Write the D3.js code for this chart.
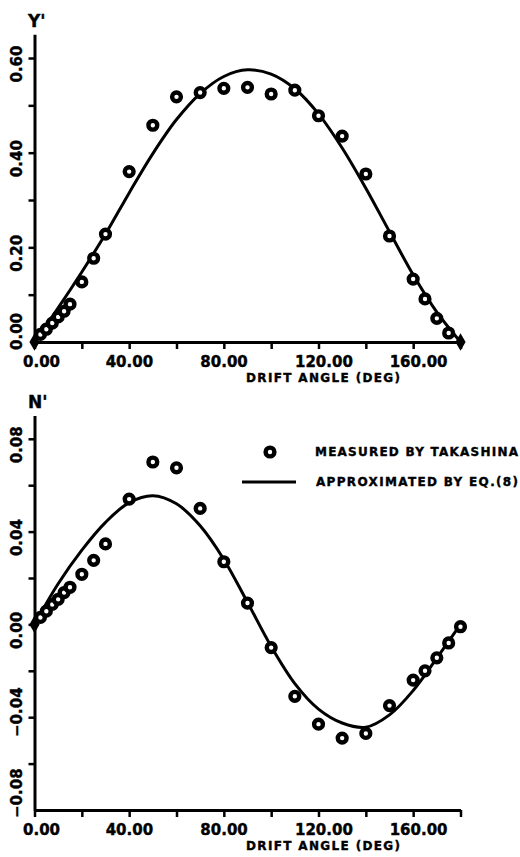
<!DOCTYPE html>
<meta charset="utf-8">
<head>
	<title>Drift angle</title>
	<script src="https://cdnjs.cloudflare.com/ajax/libs/d3/7.8.5/d3.min.js" charset="utf-8"></script>
</head>

<style type="text/css">
	body {
		margin: 0;
		background: #fff;
	}
	text {
		font-family: "DejaVu Sans", sans-serif;
		font-weight: bold;
		fill: #000;
		stroke: #000;
		stroke-width: 0.4;
	}
	.axis path, .axis line {
		stroke: #000;
	}
	.axis path {
		stroke-width: 3;
	}
	.axis line {
		stroke-width: 2.5;
	}
	.axis text {
		font-size: 15px;
	}
	.curve {
		fill: none;
		stroke: #000;
		stroke-width: 3;
	}
	.dot {
		fill: #fff;
		stroke: #000;
		stroke-width: 4.4;
	}
</style>

<body>
<div id=chart></div>

<script>
	// measured points (Takashina), drift angle in degrees
	var yAngles = [0, 2.5, 5, 7.5, 10, 12.5, 15, 20, 25, 30, 40, 50, 60, 70, 80, 90, 100, 110, 120, 130, 140, 150, 160, 165, 170, 175, 180];
	var yMeasured = [0, 0.016, 0.027, 0.04, 0.053, 0.065, 0.08, 0.127, 0.177, 0.228, 0.36, 0.458, 0.518, 0.527, 0.536, 0.538, 0.524, 0.532, 0.478, 0.435, 0.355, 0.224, 0.133, 0.091, 0.05, 0.019, 0];

	var nAngles = [0, 2.5, 5, 7.5, 10, 12.5, 15, 20, 25, 30, 40, 50, 60, 70, 80, 90, 100, 110, 120, 130, 140, 150, 160, 165, 170, 175, 180];
	var nMeasured = [0, 0.003, 0.0057, 0.0086, 0.0108, 0.0137, 0.016, 0.0216, 0.0276, 0.0347, 0.054, 0.070, 0.0675, 0.050, 0.027, 0.0092, -0.010, -0.031, -0.043, -0.049, -0.047, -0.035, -0.024, -0.020, -0.0144, -0.008, -0.001];

	// approximated curve, Eq.(8), read off every 10 deg
	var curveAngles = [0, 10, 20, 30, 40, 50, 60, 70, 80, 90, 100, 110, 120, 130, 140, 150, 160, 170, 180];
	var yCurve = [0, 0.072, 0.148, 0.228, 0.315, 0.398, 0.47, 0.525, 0.561, 0.575, 0.566, 0.535, 0.482, 0.41, 0.325, 0.233, 0.142, 0.063, 0];
	var nCurve = [0, 0.0175, 0.032, 0.044, 0.0525, 0.0555, 0.052, 0.0425, 0.028, 0.0095, -0.0095, -0.0255, -0.0365, -0.0425, -0.0443, -0.039, -0.0285, -0.0145, 0];

	var xTicks = [0, 20, 40, 60, 80, 100, 120, 140, 160, 180];
	var yTicks = [0.1, 0.2, 0.3, 0.4, 0.5, 0.6];
	var yLabels = [0, 0.2, 0.4, 0.6];
	var nTicks = [-0.06, -0.04, -0.02, 0, 0.02, 0.04, 0.06, 0.08];
	var nLabels = [-0.08, -0.04, 0, 0.04, 0.08];

	var svg = d3.select("#chart").append("svg")
		.attr("width", 520)
		.attr("height", 857);

	var xLeft = 34.5, xRight = 460.5;

	function panel(opts) {
		var x = d3.scaleLinear().domain([0, 180]).range([xLeft, xRight]);
		var y = d3.scaleLinear().domain(opts.yDomain).range(opts.yRange);
		var g = svg.append("g");
		var fmt = d3.format(".2f");

		// x axis
		var xa = g.append("g")
			.attr("class", "x axis")
			.attr("transform", "translate(0," + y(opts.yDomain[0]) + ")")
			.call(d3.axisBottom(x).tickValues(xTicks).tickSize(7).tickSizeOuter(0)
				.tickFormat(function(d) { return d % 40 === 0 ? fmt(d) : ""; }));
		xa.selectAll("text")
			.attr("y", 19.5)
			.attr("dy", null)
			.attr("dominant-baseline", "central")
			.attr("text-anchor", "start")
			.attr("x", function(d) { return d === 0 ? -12 : -24; });

		// y axis
		var ya = g.append("g")
			.attr("class", "y axis")
			.attr("transform", "translate(" + xLeft + ",0)")
			.call(d3.axisLeft(y).tickValues(opts.ticks).tickSize(6).tickSizeOuter(0)
				.tickFormat(function() { return ""; }));
		ya.selectAll(".tick text").remove();

		var lowest = opts.yDomain[0];
		g.selectAll(".ylab")
			.data(opts.labels)
		 .enter().append("text")
			.attr("class", "ylab")
			.style("font-size", "15px")
			.attr("dominant-baseline", "central")
			.attr("text-anchor", function(d) { return Math.abs(d - lowest) < 1e-9 ? "start" : "middle"; })
			.attr("transform", function(d) {
				var off = Math.abs(d - lowest) < 1e-9 ? 8 : (d < 0 ? -5 : 6);
				return "translate(17," + (y(d) + off) + ") rotate(-90)";
			})
			.text(function(d) { return fmt(d); });

		g.append("text")
			.attr("x", 28)
			.attr("y", opts.titleY)
			.style("font-size", "17px")
			.text(opts.title);

		g.append("text")
			.attr("x", 323)
			.attr("y", y(opts.yDomain[0]) + 36)
			.attr("dominant-baseline", "central")
			.attr("text-anchor", "middle")
			.attr("textLength", 154)
			.attr("lengthAdjust", "spacing")
			.style("font-size", "12px")
			.text("DRIFT ANGLE (DEG)");

		var line = d3.line()
			.x(function(d, i) { return x(curveAngles[i]); })
			.y(function(d) { return y(d); })
			.curve(d3.curveCatmullRom.alpha(0.5));

		g.append("path")
			.attr("class", "curve")
			.attr("d", line(opts.curve));

		var pts = opts.angles.map(function(a, i) { return {a: a, v: opts.values[i]}; });

		g.selectAll(".dot")
			.data(pts.filter(function(d) { return d.v !== 0; }))
		 .enter().append("circle")
			.attr("class", "dot")
			.attr("cx", function(d) { return x(d.a); })
			.attr("cy", function(d) { return y(d.v); })
			.attr("r", 4.4);

		// zero readings show as filled diamonds
		g.selectAll(".zero")
			.data(pts.filter(function(d) { return d.v === 0; }))
		 .enter().append("path")
			.attr("class", "zero")
			.attr("d", d3.symbol().type(d3.symbolDiamond).size(90))
			.attr("transform", function(d) { return "translate(" + x(d.a) + "," + y(d.v) + ")"; })
			.attr("fill", "#000");

		return g;
	}

	panel({
		yDomain: [0, 0.65], yRange: [342, 342 - 0.65 * 473.3],
		ticks: yTicks, labels: yLabels,
		angles: yAngles, values: yMeasured, curve: yCurve,
		title: "Y'", titleY: 27
	});

	var bottom = panel({
		yDomain: [-0.08, 0.09], yRange: [810, 810 - 0.17 * 2320],
		ticks: nTicks, labels: nLabels,
		angles: nAngles, values: nMeasured, curve: nCurve,
		title: "N'", titleY: 408
	});

	// legend
	bottom.append("circle")
		.attr("class", "dot")
		.attr("cx", 270)
		.attr("cy", 452)
		.attr("r", 4.4);

	bottom.append("line")
		.attr("x1", 242).attr("x2", 296)
		.attr("y1", 482).attr("y2", 482)
		.attr("stroke", "#000")
		.attr("stroke-width", 3);

	bottom.append("text")
		.attr("x", 315).attr("y", 452)
		.attr("dominant-baseline", "central")
		.attr("textLength", 203)
		.attr("lengthAdjust", "spacing")
		.style("font-size", "12px")
		.text("MEASURED BY TAKASHINA");

	bottom.append("text")
		.attr("x", 316).attr("y", 482)
		.attr("dominant-baseline", "central")
		.attr("textLength", 202)
		.attr("lengthAdjust", "spacing")
		.style("font-size", "12px")
		.text("APPROXIMATED BY EQ.(8)");
</script>
</body>
